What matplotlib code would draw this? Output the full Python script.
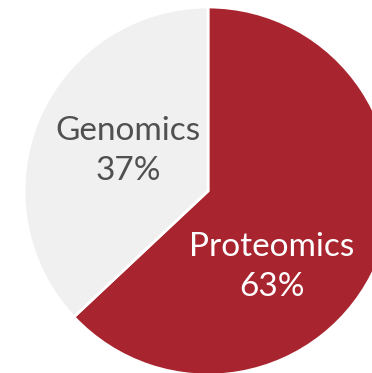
"""
Share of omics work
"""

import matplotlib.pyplot as plt

# Data
labels = ['Proteomics', 'Genomics']
shares = [63, 37]
colors = ['#A8252F', '#F0F0F0']
text_colors = ['white', '#505050']

# Label positions in pixel coordinates (y up)
label_pos = [(272, 106), (128, 222)]

fig = plt.figure(figsize=(3.72, 3.73), dpi=100)
ax = fig.add_axes([0, 0, 1, 1])

ax.pie(shares, colors=colors, startangle=90, counterclock=False,
       center=(208, 182), radius=184, frame=True,
       wedgeprops=dict(edgecolor='white', linewidth=2))

for name, val, pos, tc in zip(labels, shares, label_pos, text_colors):
	ax.text(pos[0], pos[1], f'{name}\n{val}%', ha='center', va='center',
	        color=tc, fontsize=24, family='Lato', linespacing=1.42)

ax.set_xlim(0, 372)
ax.set_ylim(0, 373)
ax.set_aspect('equal')
ax.axis('off')

plt.savefig('out.png', dpi=100)
